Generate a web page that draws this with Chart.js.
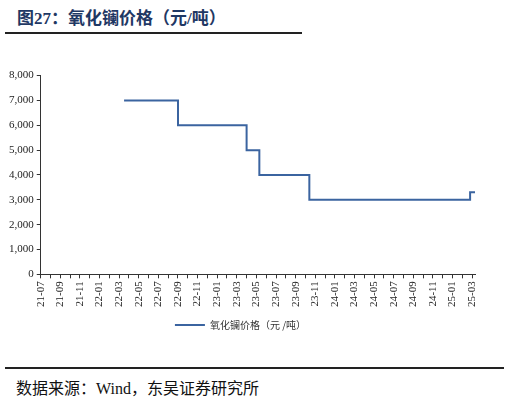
<!DOCTYPE html>
<html><head><meta charset="utf-8">
<script src="https://cdn.jsdelivr.net/npm/chart.js@4"></script>
<style>
body{margin:0;width:509px;height:402px;background:#fff;position:relative;overflow:hidden;font-family:"Liberation Serif","Noto Sans CJK SC",serif}
#title{position:absolute;left:17px;top:4px;font-size:17px;font-weight:bold;color:#1f3864;font-family:"Liberation Serif","Noto Sans CJK SC",serif}
#l1{position:absolute;left:5px;top:32px;width:297px;height:2px;background:#222}
#l2{position:absolute;left:5px;top:367px;width:499px;height:2px;background:#222}
#src{position:absolute;left:16px;top:375px;font-size:16px;color:#111}
#wrap{position:absolute;left:0;top:66px;width:509px;height:274px}
</style></head><body>
<div id="title">图27：氧化镧价格（元/吨）</div>
<div id="l1"></div>
<div id="wrap"><canvas id="c"></canvas></div>
<div id="l2"></div>
<div id="src">数据来源：Wind，东吴证券研究所</div>
<script>
const monthLabels=[];
for(let i=0;i<45;i++){const m=(6+i)%12+1,y=21+Math.floor((6+i)/12);monthLabels.push(String(y)+'-'+String(m).padStart(2,'0'));}
// x = months since 21-07
const stepX=[8.5,14,21,22.3,27.4,43.8,44.3];
const stepY=[7000,6000,5000,4000,3000,3300,3300];
const yTicks=[0,1000,2000,3000,4000,5000,6000,7000,8000];
new Chart(document.getElementById('c'),{
type:'line',
data:{datasets:[{label:'氧化镧价格（元 /吨）',data:stepX.map((x,i)=>({x:x,y:stepY[i]})),stepped:'before',borderColor:'#3b64a0',borderWidth:2,pointRadius:0,fill:false}]},
options:{responsive:true,maintainAspectRatio:false,animation:false,
layout:{padding:{left:6,right:34,top:3,bottom:0}},
plugins:{legend:{position:'bottom',labels:{boxWidth:30,boxHeight:0,font:{size:10,family:'"Noto Sans CJK SC"'},color:'#333'}},tooltip:{enabled:false}},
scales:{
x:{type:'linear',min:0,max:44.3,afterBuildTicks:s=>{s.ticks=monthLabels.map((_,i)=>({value:i}));},
grid:{display:true,drawOnChartArea:false,color:'#333',tickLength:4},border:{color:'#333'},
ticks:{autoSkip:false,maxRotation:90,minRotation:90,font:{size:11,family:'"Liberation Serif"'},color:'#222',callback:(v)=>{const i=Math.round(v);return i%2===0?monthLabels[i]:'';}}},
y:{min:0,max:8000,afterBuildTicks:s=>{s.ticks=yTicks.map(v=>({value:v}));},
grid:{display:true,drawOnChartArea:false,color:'#333',tickLength:4},border:{color:'#333'},
ticks:{font:{size:11,family:'"Liberation Serif"'},color:'#222',callback:v=>v.toLocaleString('en-US')}}
}}});
</script></body></html>
